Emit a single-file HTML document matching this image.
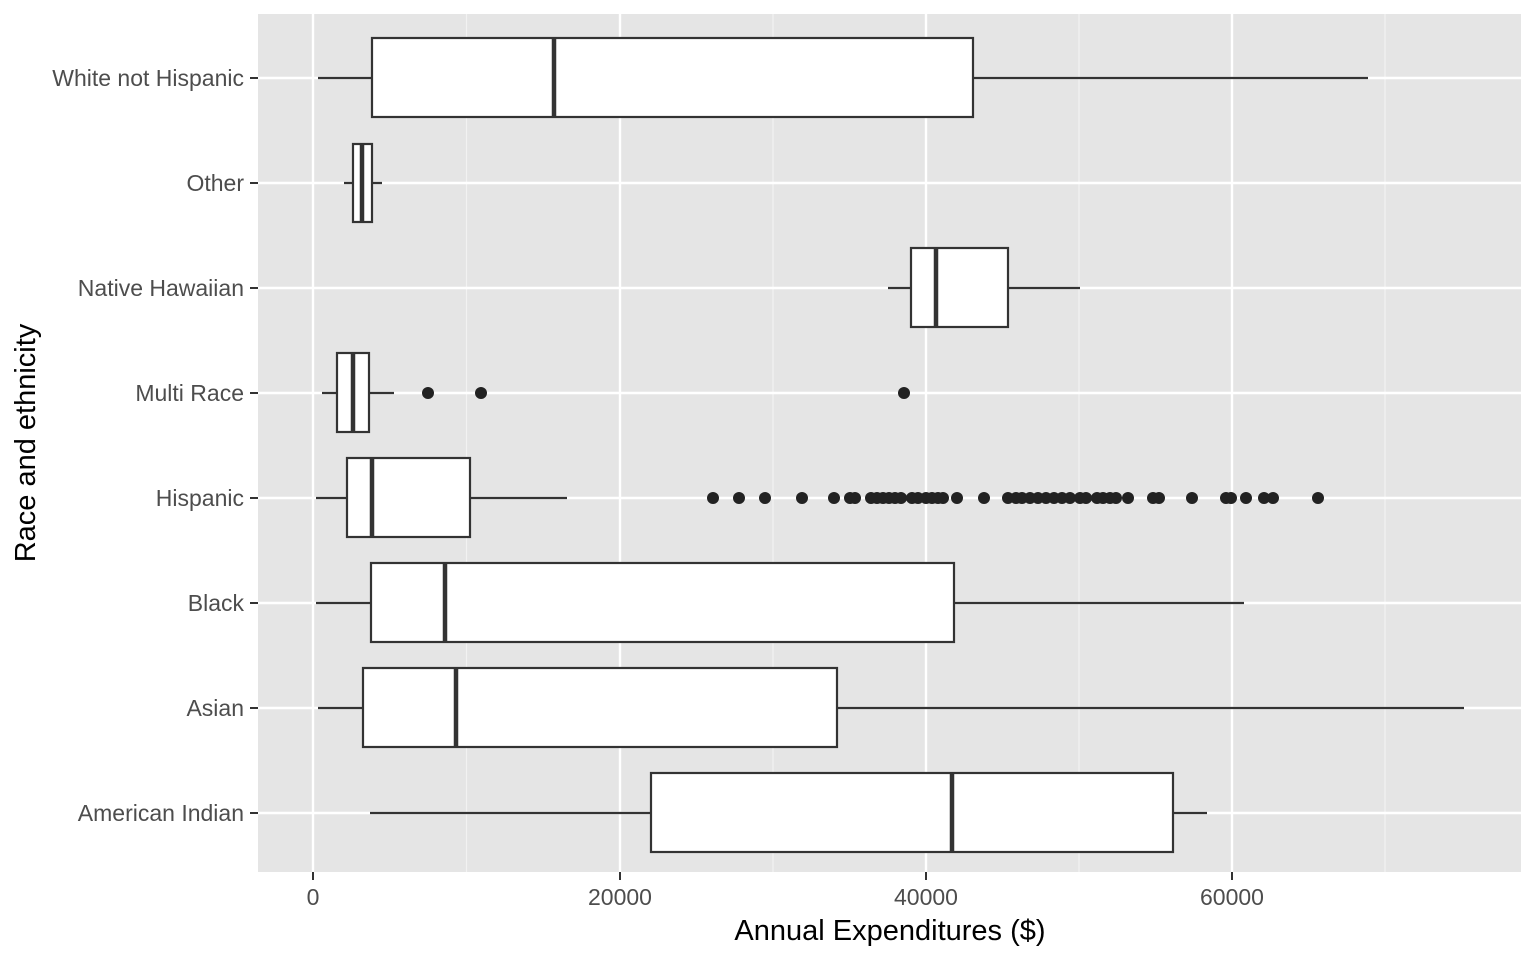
<!DOCTYPE html>
<html><head><style>body{margin:0;background:#fff}svg{display:block}text{font-family:"Liberation Sans",Arial,sans-serif}</style></head><body>
<svg width="1536" height="960" viewBox="0 0 1536 960">
<rect x="258" y="14" width="1263" height="858" fill="#e5e5e5"/>
<g stroke="#f2f2f2" stroke-width="1.2">
<line x1="466.5" y1="14" x2="466.5" y2="872"/><line x1="773" y1="14" x2="773" y2="872"/><line x1="1079" y1="14" x2="1079" y2="872"/><line x1="1385" y1="14" x2="1385" y2="872"/>
</g>
<g stroke="#fff" stroke-width="2.4">
<line x1="313" y1="14" x2="313" y2="872"/><line x1="620" y1="14" x2="620" y2="872"/><line x1="926" y1="14" x2="926" y2="872"/><line x1="1232" y1="14" x2="1232" y2="872"/>
<line x1="258" y1="78" x2="1521" y2="78"/><line x1="258" y1="183" x2="1521" y2="183"/><line x1="258" y1="288" x2="1521" y2="288"/><line x1="258" y1="393" x2="1521" y2="393"/><line x1="258" y1="498" x2="1521" y2="498"/><line x1="258" y1="603" x2="1521" y2="603"/><line x1="258" y1="708" x2="1521" y2="708"/><line x1="258" y1="813" x2="1521" y2="813"/>
</g>
<g stroke="#333" stroke-width="2.2" fill="#fff">
<line x1="318" y1="78" x2="1368" y2="78"/><rect x="372" y="38" width="601" height="79"/><line x1="554" y1="38" x2="554" y2="117" stroke-width="4.5"/>
<line x1="344" y1="183" x2="382" y2="183"/><rect x="353" y="144" width="19" height="78"/><line x1="362" y1="144" x2="362" y2="222" stroke-width="4.5"/>
<line x1="888" y1="288" x2="1080" y2="288"/><rect x="911" y="248" width="97" height="79"/><line x1="936" y1="248" x2="936" y2="327" stroke-width="4.5"/>
<line x1="322" y1="393" x2="394" y2="393"/><rect x="337" y="353" width="32" height="79"/><line x1="353" y1="353" x2="353" y2="432" stroke-width="4.5"/>
<line x1="316" y1="498" x2="567" y2="498"/><rect x="347" y="458" width="123" height="79"/><line x1="372" y1="458" x2="372" y2="537" stroke-width="4.5"/>
<line x1="316" y1="603" x2="1244" y2="603"/><rect x="371" y="563" width="583" height="79"/><line x1="445" y1="563" x2="445" y2="642" stroke-width="4.5"/>
<line x1="318" y1="708" x2="1464" y2="708"/><rect x="363" y="668" width="474" height="79"/><line x1="456" y1="668" x2="456" y2="747" stroke-width="4.5"/>
<line x1="370" y1="813" x2="1207" y2="813"/><rect x="651" y="773" width="522" height="79"/><line x1="952" y1="773" x2="952" y2="852" stroke-width="4.5"/>
</g>
<g fill="#222">
<circle cx="428" cy="393" r="6"/><circle cx="481" cy="393" r="6"/><circle cx="904" cy="393" r="6"/>
<circle cx="713" cy="498" r="6"/><circle cx="739" cy="498" r="6"/><circle cx="765" cy="498" r="6"/><circle cx="802" cy="498" r="6"/><circle cx="834" cy="498" r="6"/><circle cx="850" cy="498" r="6"/><circle cx="855" cy="498" r="6"/>
<circle cx="871" cy="498" r="6"/><circle cx="877" cy="498" r="6"/><circle cx="883" cy="498" r="6"/><circle cx="889" cy="498" r="6"/><circle cx="895" cy="498" r="6"/><circle cx="901" cy="498" r="6"/>
<circle cx="912" cy="498" r="6"/><circle cx="918" cy="498" r="6"/><circle cx="926" cy="498" r="6"/><circle cx="932" cy="498" r="6"/><circle cx="938" cy="498" r="6"/><circle cx="943" cy="498" r="6"/>
<circle cx="957" cy="498" r="6"/><circle cx="984" cy="498" r="6"/><circle cx="1008" cy="498" r="6"/><circle cx="1016" cy="498" r="6"/><circle cx="1022" cy="498" r="6"/><circle cx="1030" cy="498" r="6"/><circle cx="1038" cy="498" r="6"/><circle cx="1046" cy="498" r="6"/><circle cx="1054" cy="498" r="6"/><circle cx="1062" cy="498" r="6"/><circle cx="1070" cy="498" r="6"/><circle cx="1080" cy="498" r="6"/><circle cx="1086" cy="498" r="6"/>
<circle cx="1097" cy="498" r="6"/><circle cx="1103" cy="498" r="6"/><circle cx="1110" cy="498" r="6"/><circle cx="1116" cy="498" r="6"/><circle cx="1128" cy="498" r="6"/><circle cx="1153" cy="498" r="6"/><circle cx="1159" cy="498" r="6"/><circle cx="1192" cy="498" r="6"/><circle cx="1226" cy="498" r="6"/><circle cx="1231" cy="498" r="6"/><circle cx="1246" cy="498" r="6"/><circle cx="1264" cy="498" r="6"/><circle cx="1273" cy="498" r="6"/><circle cx="1318" cy="498" r="6"/>
</g>
<g stroke="#333" stroke-width="2">
<line x1="250" y1="78" x2="258" y2="78"/><line x1="250" y1="183" x2="258" y2="183"/><line x1="250" y1="288" x2="258" y2="288"/><line x1="250" y1="393" x2="258" y2="393"/><line x1="250" y1="498" x2="258" y2="498"/><line x1="250" y1="603" x2="258" y2="603"/><line x1="250" y1="708" x2="258" y2="708"/><line x1="250" y1="813" x2="258" y2="813"/>
<line x1="313" y1="872" x2="313" y2="880"/><line x1="620" y1="872" x2="620" y2="880"/><line x1="926" y1="872" x2="926" y2="880"/><line x1="1232" y1="872" x2="1232" y2="880"/>
</g>
<g font-size="23" fill="#4d4d4d" text-anchor="end">
<text x="244" y="86">White not Hispanic</text><text x="244" y="191">Other</text><text x="244" y="296">Native Hawaiian</text><text x="244" y="401">Multi Race</text><text x="244" y="506">Hispanic</text><text x="244" y="611">Black</text><text x="244" y="716">Asian</text><text x="244" y="821">American Indian</text>
</g>
<g font-size="23" fill="#4d4d4d" text-anchor="middle">
<text x="313" y="905">0</text><text x="620" y="905">20000</text><text x="926" y="905">40000</text><text x="1232" y="905">60000</text>
</g>
<text x="890" y="940" font-size="29" text-anchor="middle" fill="#000">Annual Expenditures ($)</text>
<text transform="translate(35,443) rotate(-90)" font-size="29" text-anchor="middle" fill="#000">Race and ethnicity</text>
</svg>
</body></html>
